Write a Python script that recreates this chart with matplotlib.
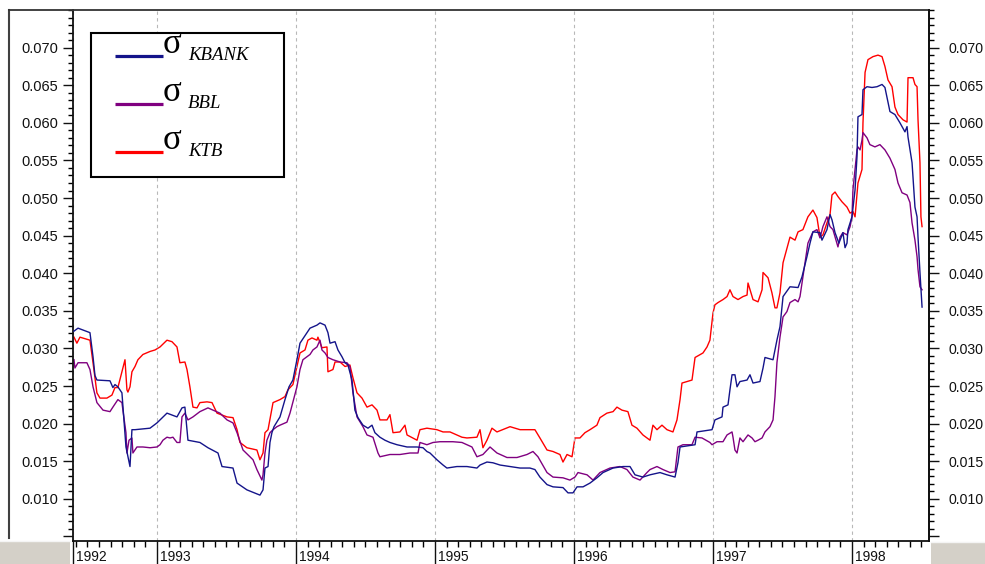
import matplotlib.pyplot as plt
import matplotlib.transforms as mtransforms
from matplotlib.lines import Line2D
from matplotlib.patches import Rectangle
from matplotlib.ticker import FixedLocator, MultipleLocator, FuncFormatter

plt.rcParams['font.family'] = ['Liberation Sans', 'DejaVu Sans']

# time in decimal years, daily volatility of each bank's returns
kbank_t = [1992.403, 1992.432, 1992.518, 1992.540, 1992.554, 1992.568, 1992.662, 1992.683, 1992.698, 1992.719,
           1992.748, 1992.777, 1992.806, 1992.820, 1992.842, 1992.950, 1993.000, 1993.072, 1993.144, 1993.180,
           1993.201, 1993.223, 1993.309, 1993.367, 1993.439, 1993.468, 1993.547, 1993.576, 1993.647, 1993.741,
           1993.763, 1993.777, 1993.799, 1993.813, 1993.827, 1993.842, 1993.885, 1993.921, 1993.950, 1993.978,
           1994.007, 1994.029, 1994.079, 1994.101, 1994.151, 1994.173, 1994.209, 1994.230, 1994.245, 1994.281,
           1994.302, 1994.331, 1994.353, 1994.374, 1994.403, 1994.424, 1994.446, 1994.482, 1994.518, 1994.547,
           1994.568, 1994.604, 1994.640, 1994.676, 1994.727, 1994.799, 1994.871, 1994.914, 1994.942, 1994.964,
           1995.014, 1995.058, 1995.086, 1995.158, 1995.230, 1995.302, 1995.324, 1995.374, 1995.417, 1995.468,
           1995.540, 1995.612, 1995.683, 1995.719, 1995.755, 1995.806, 1995.849, 1995.921, 1995.957, 1995.993,
           1996.022, 1996.065, 1996.115, 1996.165, 1996.209, 1996.281, 1996.353, 1996.403, 1996.439, 1996.496,
           1996.547, 1996.619, 1996.669, 1996.727, 1996.748, 1996.763, 1996.871, 1996.885, 1996.993, 1997.014,
           1997.065, 1997.072, 1997.108, 1997.122, 1997.137, 1997.158, 1997.173, 1997.194, 1997.245, 1997.266,
           1997.288, 1997.338, 1997.360, 1997.374, 1997.432, 1997.460, 1997.482, 1997.504, 1997.554, 1997.612,
           1997.640, 1997.676, 1997.698, 1997.719, 1997.770, 1997.784, 1997.820, 1997.842, 1997.856, 1997.878,
           1997.906, 1997.935, 1997.950, 1997.964, 1997.971, 1998.000, 1998.022, 1998.036, 1998.043, 1998.072,
           1998.079, 1998.108, 1998.144, 1998.180, 1998.216, 1998.237, 1998.259, 1998.273, 1998.309, 1998.345,
           1998.360, 1998.381, 1998.396, 1998.403, 1998.432, 1998.453, 1998.468, 1998.475, 1998.489, 1998.504]
kbank = [0.0323, 0.0327, 0.0321, 0.0289, 0.0264, 0.0258, 0.0257, 0.0248, 0.0252, 0.0249,
         0.0241, 0.0169, 0.0143, 0.0192, 0.0192, 0.0194, 0.0201, 0.0214, 0.0209, 0.0221,
         0.0222, 0.0178, 0.0175, 0.0168, 0.0161, 0.0143, 0.0141, 0.0121, 0.0112, 0.0105,
         0.0112, 0.0141, 0.0143, 0.0175, 0.0188, 0.0196, 0.0209, 0.0232, 0.0249, 0.0258,
         0.0285, 0.0307, 0.0321, 0.0327, 0.0331, 0.0334, 0.0331, 0.0321, 0.0307, 0.0309,
         0.0298, 0.0289, 0.0281, 0.0278, 0.0258, 0.0218, 0.0208, 0.0198, 0.0194, 0.0198,
         0.0188, 0.0182, 0.0178, 0.0175, 0.0172, 0.0169, 0.0169, 0.0168, 0.0163, 0.0161,
         0.0152, 0.0145, 0.0141, 0.0143, 0.0143, 0.0141, 0.0145, 0.0149, 0.0148, 0.0145,
         0.0143, 0.0141, 0.0141, 0.0139, 0.0129, 0.0119, 0.0116, 0.0115, 0.0108, 0.0108,
         0.0116, 0.0116, 0.0121, 0.0128, 0.0135, 0.0141, 0.0143, 0.0143, 0.0132, 0.0129,
         0.0132, 0.0135, 0.0132, 0.0129, 0.0148, 0.0169, 0.0172, 0.0189, 0.0192, 0.0205,
         0.0209, 0.0222, 0.0225, 0.0245, 0.0265, 0.0265, 0.0249, 0.0256, 0.0258, 0.0265,
         0.0254, 0.0256, 0.0274, 0.0288, 0.0285, 0.0311, 0.0329, 0.0369, 0.0382, 0.0381,
         0.0395, 0.0422, 0.0440, 0.0455, 0.0454, 0.0444, 0.0458, 0.0478, 0.0471, 0.0454,
         0.0440, 0.0454, 0.0434, 0.0440, 0.0458, 0.0475, 0.0511, 0.0555, 0.0608, 0.0611,
         0.0644, 0.0648, 0.0647, 0.0648, 0.0651, 0.0647, 0.0627, 0.0615, 0.0611, 0.0600,
         0.0595, 0.0588, 0.0595, 0.0581, 0.0547, 0.0488, 0.0475, 0.0448, 0.0401, 0.0355]

bbl_t = [1992.403, 1992.410, 1992.432, 1992.496, 1992.518, 1992.540, 1992.568, 1992.612, 1992.662, 1992.683,
         1992.719, 1992.748, 1992.755, 1992.777, 1992.784, 1992.799, 1992.820, 1992.827, 1992.856, 1992.899,
         1992.950, 1993.000, 1993.022, 1993.043, 1993.072, 1993.094, 1993.115, 1993.144, 1993.165, 1993.180,
         1993.201, 1993.223, 1993.259, 1993.309, 1993.367, 1993.403, 1993.453, 1993.504, 1993.547, 1993.576,
         1993.619, 1993.691, 1993.719, 1993.755, 1993.763, 1993.777, 1993.791, 1993.813, 1993.835, 1993.863,
         1993.885, 1993.935, 1993.957, 1994.007, 1994.029, 1994.050, 1994.101, 1994.122, 1994.151, 1994.173,
         1994.187, 1994.209, 1994.230, 1994.266, 1994.317, 1994.367, 1994.388, 1994.410, 1994.439, 1994.482,
         1994.511, 1994.554, 1994.590, 1994.604, 1994.676, 1994.748, 1994.820, 1994.878, 1994.892, 1994.942,
         1994.986, 1995.036, 1995.129, 1995.194, 1995.266, 1995.302, 1995.345, 1995.396, 1995.446, 1995.518,
         1995.590, 1995.662, 1995.705, 1995.741, 1995.806, 1995.849, 1995.921, 1995.971, 1996.007, 1996.029,
         1996.094, 1996.137, 1996.187, 1996.259, 1996.331, 1996.381, 1996.424, 1996.475, 1996.525, 1996.547,
         1996.597, 1996.640, 1996.691, 1996.727, 1996.748, 1996.784, 1996.849, 1996.871, 1996.921, 1996.978,
         1996.993, 1997.029, 1997.072, 1997.101, 1997.137, 1997.144, 1997.158, 1997.173, 1997.194, 1997.216,
         1997.252, 1997.281, 1997.302, 1997.324, 1997.353, 1997.374, 1997.410, 1997.432, 1997.446, 1997.460,
         1997.482, 1997.504, 1997.532, 1997.554, 1997.590, 1997.612, 1997.626, 1997.662, 1997.683, 1997.719,
         1997.748, 1997.770, 1997.791, 1997.820, 1997.842, 1997.863, 1997.899, 1997.914, 1997.935, 1997.964,
         1997.986, 1998.000, 1998.007, 1998.022, 1998.036, 1998.043, 1998.058, 1998.072, 1998.079, 1998.108,
         1998.129, 1998.165, 1998.201, 1998.237, 1998.273, 1998.309, 1998.331, 1998.360, 1998.396, 1998.417,
         1998.432, 1998.453, 1998.468, 1998.475, 1998.489, 1998.504]
bbl = [0.0285, 0.0274, 0.0281, 0.0281, 0.0272, 0.0249, 0.0228, 0.0218, 0.0216, 0.0222,
       0.0232, 0.0228, 0.0218, 0.0188, 0.0161, 0.0178, 0.0181, 0.0161, 0.0169, 0.0169,
       0.0168, 0.0169, 0.0172, 0.0178, 0.0182, 0.0181, 0.0182, 0.0175, 0.0175, 0.0209,
       0.0214, 0.0205, 0.0209, 0.0216, 0.0221, 0.0218, 0.0214, 0.0205, 0.0201, 0.0188,
       0.0165, 0.0152, 0.0139, 0.0125, 0.0132, 0.0161, 0.0178, 0.0188, 0.0192, 0.0196,
       0.0198, 0.0202, 0.0214, 0.0249, 0.0272, 0.0285, 0.0292, 0.0298, 0.0302, 0.0311,
       0.0298, 0.0294, 0.0288, 0.0285, 0.0282, 0.0281, 0.0276, 0.0241, 0.0209, 0.0196,
       0.0185, 0.0182, 0.0161, 0.0156, 0.0159, 0.0159, 0.0161, 0.0161, 0.0175, 0.0172,
       0.0175, 0.0176, 0.0176, 0.0175, 0.0169, 0.0156, 0.0159, 0.0169, 0.0161, 0.0155,
       0.0155, 0.0159, 0.0163, 0.0156, 0.0135, 0.0129, 0.0128, 0.0125, 0.0129, 0.0135,
       0.0132, 0.0125, 0.0135, 0.0141, 0.0143, 0.0139, 0.0129, 0.0125, 0.0135, 0.0139,
       0.0143, 0.0139, 0.0135, 0.0136, 0.0169, 0.0172, 0.0172, 0.0182, 0.0181, 0.0175,
       0.0172, 0.0176, 0.0176, 0.0185, 0.0189, 0.0182, 0.0165, 0.0161, 0.0181, 0.0176,
       0.0185, 0.0181, 0.0176, 0.0178, 0.0181, 0.0189, 0.0196, 0.0205, 0.0236, 0.0281,
       0.0315, 0.0342, 0.0349, 0.0361, 0.0365, 0.0362, 0.0369, 0.0414, 0.0440, 0.0455,
       0.0458, 0.0447, 0.0462, 0.0475, 0.0462, 0.0458, 0.0435, 0.0448, 0.0454, 0.0451,
       0.0462, 0.0475, 0.0511, 0.0538, 0.0564, 0.0568, 0.0564, 0.0577, 0.0587, 0.0580,
       0.0571, 0.0568, 0.0571, 0.0564, 0.0553, 0.0538, 0.0520, 0.0507, 0.0504, 0.0494,
       0.0467, 0.0444, 0.0422, 0.0405, 0.0382, 0.0378]

ktb_t = [1992.403, 1992.424, 1992.446, 1992.518, 1992.540, 1992.568, 1992.590, 1992.640, 1992.676, 1992.698,
         1992.719, 1992.755, 1992.770, 1992.784, 1992.791, 1992.806, 1992.820, 1992.842, 1992.863, 1992.899,
         1992.950, 1992.986, 1993.022, 1993.072, 1993.108, 1993.144, 1993.165, 1993.201, 1993.216, 1993.237,
         1993.259, 1993.288, 1993.309, 1993.360, 1993.396, 1993.432, 1993.504, 1993.547, 1993.576, 1993.597,
         1993.647, 1993.719, 1993.741, 1993.763, 1993.777, 1993.799, 1993.835, 1993.885, 1993.921, 1993.942,
         1993.978, 1994.007, 1994.029, 1994.065, 1994.086, 1994.115, 1994.151, 1994.158, 1994.187, 1994.223,
         1994.230, 1994.266, 1994.281, 1994.317, 1994.353, 1994.388, 1994.410, 1994.439, 1994.475, 1994.511,
         1994.547, 1994.583, 1994.604, 1994.655, 1994.676, 1994.698, 1994.748, 1994.784, 1994.799, 1994.871,
         1994.892, 1994.942, 1995.014, 1995.058, 1995.108, 1995.158, 1995.194, 1995.230, 1995.302, 1995.324,
         1995.345, 1995.374, 1995.410, 1995.446, 1995.540, 1995.612, 1995.719, 1995.755, 1995.806, 1995.849,
         1995.899, 1995.921, 1995.950, 1995.986, 1996.007, 1996.043, 1996.079, 1996.115, 1996.165, 1996.187,
         1996.237, 1996.281, 1996.309, 1996.345, 1996.388, 1996.417, 1996.453, 1996.496, 1996.547, 1996.568,
         1996.597, 1996.633, 1996.669, 1996.712, 1996.741, 1996.763, 1996.777, 1996.849, 1996.871, 1996.928,
         1996.957, 1996.978, 1997.000, 1997.014, 1997.036, 1997.072, 1997.101, 1997.122, 1997.144, 1997.180,
         1997.216, 1997.245, 1997.252, 1997.273, 1997.288, 1997.324, 1997.353, 1997.360, 1997.396, 1997.424,
         1997.446, 1997.460, 1997.482, 1997.504, 1997.554, 1997.590, 1997.612, 1997.647, 1997.683, 1997.719,
         1997.748, 1997.770, 1997.791, 1997.820, 1997.842, 1997.856, 1997.878, 1997.899, 1997.928, 1997.964,
         1997.986, 1998.007, 1998.022, 1998.043, 1998.072, 1998.079, 1998.094, 1998.115, 1998.151, 1998.187,
         1998.216, 1998.237, 1998.259, 1998.288, 1998.309, 1998.331, 1998.367, 1998.396, 1998.403, 1998.439,
         1998.453, 1998.468, 1998.475, 1998.489, 1998.496, 1998.504]
ktb = [0.0315, 0.0307, 0.0315, 0.0311, 0.0281, 0.0241, 0.0234, 0.0234, 0.0238, 0.0248,
       0.0248, 0.0274, 0.0285, 0.0245, 0.0242, 0.0249, 0.0269, 0.0276, 0.0285, 0.0292,
       0.0296, 0.0298, 0.0302, 0.0311, 0.0309, 0.0302, 0.0281, 0.0282, 0.0272, 0.0249,
       0.0222, 0.0221, 0.0228, 0.0229, 0.0228, 0.0214, 0.0209, 0.0208, 0.0192, 0.0175,
       0.0168, 0.0165, 0.0152, 0.0161, 0.0188, 0.0192, 0.0228, 0.0232, 0.0236, 0.0245,
       0.0252, 0.0276, 0.0294, 0.0298, 0.0311, 0.0314, 0.0311, 0.0315, 0.0301, 0.0302,
       0.0269, 0.0272, 0.0282, 0.0282, 0.0276, 0.0278, 0.0261, 0.0241, 0.0234, 0.0222,
       0.0225, 0.0218, 0.0205, 0.0205, 0.0212, 0.0188, 0.0189, 0.0198, 0.0185, 0.0178,
       0.0192, 0.0194, 0.0192, 0.0189, 0.0189, 0.0185, 0.0182, 0.0181, 0.0182, 0.0192,
       0.0168, 0.0178, 0.0194, 0.0189, 0.0196, 0.0192, 0.0192, 0.0181, 0.0165, 0.0163,
       0.0159, 0.0149, 0.0159, 0.0156, 0.0181, 0.0181, 0.0188, 0.0192, 0.0198, 0.0208,
       0.0214, 0.0216, 0.0222, 0.0218, 0.0216, 0.0198, 0.0194, 0.0185, 0.0178, 0.0198,
       0.0192, 0.0198, 0.0192, 0.0189, 0.0205, 0.0232, 0.0254, 0.0258, 0.0288, 0.0294,
       0.0302, 0.0311, 0.0347, 0.0358, 0.0361, 0.0365, 0.0369, 0.0378, 0.0369, 0.0365,
       0.0369, 0.0371, 0.0387, 0.0374, 0.0365, 0.0362, 0.0378, 0.0401, 0.0394, 0.0374,
       0.0354, 0.0354, 0.0374, 0.0414, 0.0448, 0.0444, 0.0455, 0.0458, 0.0475, 0.0484,
       0.0474, 0.0448, 0.0451, 0.0467, 0.0478, 0.0504, 0.0508, 0.0502, 0.0495, 0.0488,
       0.0480, 0.0482, 0.0475, 0.0520, 0.0538, 0.0600, 0.0667, 0.0684, 0.0688, 0.0690,
       0.0688, 0.0675, 0.0657, 0.0648, 0.0621, 0.0611, 0.0604, 0.0601, 0.0660, 0.0660,
       0.0651, 0.0648, 0.0604, 0.0547, 0.0475, 0.0462]

names = ['KBANK', 'BBL', 'KTB']
colors = ['#14148a', '#800080', '#ff0000']

x_start, x_end = 1992.396, 1998.554
year_ticks = [x_start, 1993, 1994, 1995, 1996, 1997, 1998]
year_labels = ['1992', '1993', '1994', '1995', '1996', '1997', '1998']
y_ticks = [0.005, 0.010, 0.015, 0.020, 0.025, 0.030, 0.035, 0.040, 0.045, 0.050, 0.055, 0.060, 0.065, 0.070]
y_lo, y_hi = 0.0044, 0.0750

W, H = 985, 564
fig = plt.figure(figsize=(W / 100, H / 100), dpi=100)
ax = fig.add_axes([73 / W, 23 / H, 856 / W, 531 / H])

series = [(kbank_t, kbank), (bbl_t, bbl), (ktb_t, ktb)]
for (t, v), c, z in zip(series, colors, (3, 2, 1)):
    ax.plot(t, v, color=c, lw=1.0, zorder=z)

ax.set_xlim(x_start, x_end)
ax.set_ylim(y_lo, y_hi)

# x axis: year ticks run the full height of the band, months are short ticks
ax.xaxis.set_major_locator(FixedLocator(year_ticks))
ax.xaxis.set_minor_locator(MultipleLocator(1 / 12))
ax.set_xticklabels(year_labels)
ax.tick_params(axis='x', which='major', direction='out', length=17, width=1.0,
               pad=-10.7, labelsize=10, colors='#111111')
ax.tick_params(axis='x', which='minor', direction='out', length=4, width=1.0)
shift = mtransforms.ScaledTranslation(3 / 100, 0, fig.dpi_scale_trans)
for lbl in ax.get_xticklabels():
    lbl.set_horizontalalignment('left')
    lbl.set_transform(lbl.get_transform() + shift)

ax.grid(axis='x', which='major', color='#b8b8b8', linestyle=(0, (3, 3)), lw=0.8)

# y axis on both sides; the 0.005 tick has no label
ax2 = ax.twinx()
ax2.set_ylim(y_lo, y_hi)
fmt = FuncFormatter(lambda v, p: '' if v < 0.008 else f'{v:.3f}')
for a, pad, size in ((ax, 3.5, 10.5), (ax2, 7.0, 10.2)):
    a.yaxis.set_major_locator(FixedLocator(y_ticks))
    a.yaxis.set_minor_locator(MultipleLocator(0.001))
    a.yaxis.set_major_formatter(fmt)
    a.tick_params(axis='y', which='major', direction='out', length=7, width=1.0,
                  pad=pad, labelsize=size, colors='#111111')
    a.tick_params(axis='y', which='minor', direction='out', length=3.5, width=1.0)

for a in (ax, ax2):
    for s in a.spines.values():
        s.set_linewidth(1.3)
        s.set_color('#111111')
ax.spines['top'].set_color('#333333')
for side in ('left', 'top', 'bottom'):
    ax2.spines[side].set_visible(False)

# legend box: a thick sample line, a large sigma and an italic subscript per row
ax.add_patch(Rectangle((0.021, 0.6855), 0.2255, 0.2712, transform=ax.transAxes,
                       facecolor='white', edgecolor='black', lw=1.5, zorder=5))
row_y = [0.9134, 0.8230, 0.7326]
for name, c, y in zip(names, colors, row_y):
    ax.add_line(Line2D([0.0491, 0.1051], [y, y], transform=ax.transAxes,
                       color=c, lw=2.3, solid_capstyle='butt', zorder=6))
    ax.text(0.1051, y + 0.0060, '\u03c3', transform=ax.transAxes, fontsize=25,
            family='Liberation Serif', ha='left', va='baseline', zorder=6)
    ax.text(0.1345, y - 0.0075, name, transform=ax.transAxes, fontsize=13.5,
            family='Liberation Serif', style='italic', ha='left', va='baseline', zorder=6)

# panel border and the grey end caps of the time band
fig.add_artist(Line2D([9 / W, 9 / W], [26 / H, 554 / H], color='#404040', lw=1.5))
fig.add_artist(Line2D([9 / W, 73 / W], [554 / H, 554 / H], color='#333333', lw=1.3))
fig.add_artist(Rectangle((0, 0), 70 / W, 23 / H, facecolor='#d4d0c8', edgecolor='none'))
fig.add_artist(Line2D([0, 70 / W], [23 / H, 23 / H], color='#f4f4f4', lw=1.0))
fig.add_artist(Rectangle((931 / W, 0), 54 / W, 22 / H, facecolor='#d4d0c8', edgecolor='none'))
fig.add_artist(Line2D([931 / W, 1], [22 / H, 22 / H], color='#f4f4f4', lw=1.0))

fig.savefig('out.png', dpi=100)
